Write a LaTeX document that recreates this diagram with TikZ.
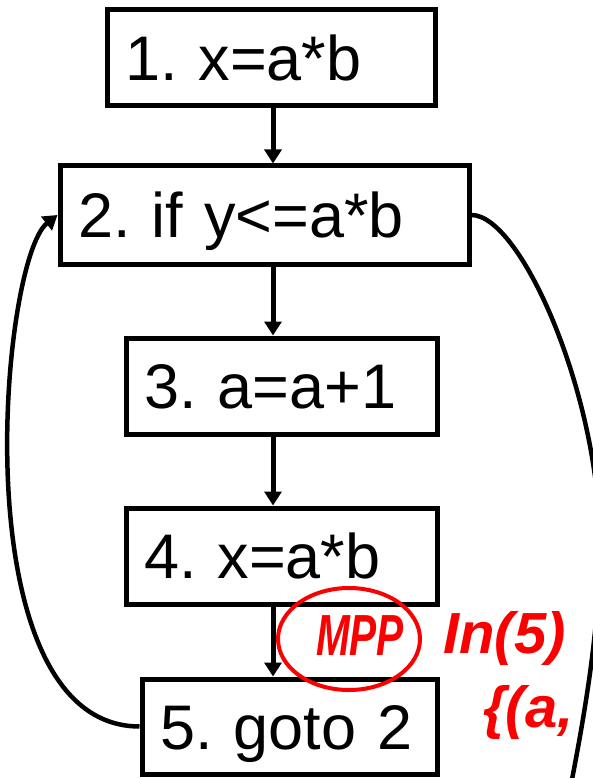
\documentclass[tikz,border=0pt]{standalone}
\usepackage{fontspec}
\setmainfont{Liberation Sans}
\usetikzlibrary{arrows.meta,positioning}
\definecolor{inkred}{RGB}{250,0,0}

\begin{document}
\begin{tikzpicture}[x=1pt,y=-1pt,
  stmtbox/.style={draw, line width=5pt, rectangle, inner xsep=18pt, inner ysep=0pt,
    align=left, font=\fontsize{63}{68}\selectfont\frenchspacing, text height=45pt, text depth=0pt},
  flow/.style={line width=5pt, -{Triangle[length=14pt,width=17pt]}},
  note/.style={text=inkred, font=\fontsize{58}{62}\selectfont\bfseries\itshape, inner sep=0pt}]
\useasboundingbox (0,0) rectangle (592,778);
% statements
\node[stmtbox, text width=292pt, minimum height=96pt] (b1) at (271,58) {1. x=a*b};
\node[stmtbox, text width=373pt, minimum height=98pt] (b2) at (264.5,215) {2. if y<=a*b};
\node[stmtbox, text width=275pt, minimum height=96pt] (b3) at (281.5,386) {3. a=a+1};
\node[stmtbox, text width=275pt, minimum height=96pt] (b4) at (281.5,556) {4. x=a*b};
\node[stmtbox, text width=259pt, minimum height=95pt] (b5) at (289.5,726.5) {5. goto 2};
\coordinate (ax) at (273,0);
% edges
\draw[flow] (ax |- b1.south) -- (ax |- b2.north);
\draw[flow] (ax |- b2.south) -- (ax |- b3.north);
\draw[flow] (ax |- b3.south) -- (ax |- b4.north);
\draw[flow] (ax |- b4.south) -- (ax |- b5.north);
\draw[flow, line width=4.5pt] (b5.west) .. controls (-40,726) and (0,260) .. (b2.west);
\coordinate (out) at (562,830);
\draw[line width=4.5pt] (b2.east) .. controls (520,215) and (598,390) .. (600,540)
  .. controls (600,640) and (580,740) .. (out);
% red notes
\draw[inkred, line width=4pt] (349,639) ellipse [x radius=71, y radius=51];
\node[note, xscale=0.7] (mpp) at (360,636) {MPP};
\node[note, anchor=west] (in5) at (443,638) {In(5)};
\node[note, anchor=west] (set) at (483,712) {\{(a,};
\end{tikzpicture}
\end{document}
